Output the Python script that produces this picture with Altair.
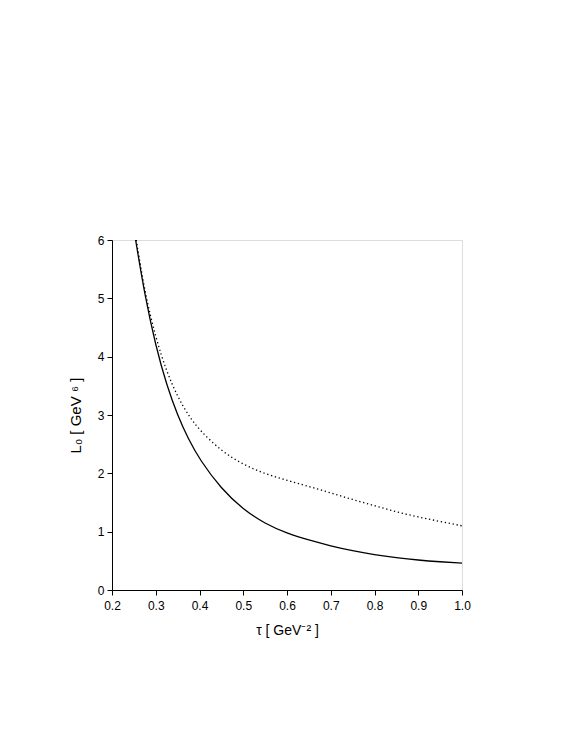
import altair as alt
import pandas as pd

# solid curve
tau_solid = [0.254, 0.275, 0.30, 0.325, 0.35, 0.375, 0.40, 0.45, 0.50, 0.55, 0.60, 0.65, 0.70, 0.75, 0.80, 0.85, 0.90, 0.95, 1.0]
L_solid = [6.0, 5.05, 4.18, 3.51, 2.99, 2.58, 2.24, 1.73, 1.38, 1.135, 0.97, 0.855, 0.755, 0.672, 0.605, 0.553, 0.512, 0.483, 0.46]

# dotted curve
tau_dot = [0.2555, 0.275, 0.30, 0.325, 0.35, 0.375, 0.40, 0.45, 0.50, 0.55, 0.60, 0.65, 0.70, 0.75, 0.80, 0.85, 0.90, 0.95, 1.0]
L_dot = [6.0, 5.10, 4.32, 3.74, 3.31, 2.99, 2.74, 2.38, 2.15, 1.99, 1.88, 1.775, 1.665, 1.55, 1.445, 1.34, 1.25, 1.175, 1.10]

x_ticks = [0.2, 0.3, 0.4, 0.5, 0.6, 0.7, 0.8, 0.9, 1.0]
y_ticks = [0, 1, 2, 3, 4, 5, 6]

df_s = pd.DataFrame({"tau": tau_solid, "L": L_solid})
df_d = pd.DataFrame({"tau": tau_dot, "L": L_dot})

font = "Liberation Sans"

xenc = alt.X("tau:Q", scale=alt.Scale(domain=[0.2, 1.0], nice=False, zero=False),
             axis=alt.Axis(values=x_ticks, format=".1f", title="τ [ GeV⁻² ]",
                           grid=False, tickSize=5, labelPadding=5, titlePadding=12,
                           labelFlush=False,
                           labelFont=font, titleFont=font, labelFontSize=12, titleFontSize=14,
                           labelColor="#000", titleColor="#000", titleFontWeight="normal",
                           domainColor="#000", tickColor="#000"))
yenc = alt.Y("L:Q", scale=alt.Scale(domain=[0, 6], nice=False),
             axis=alt.Axis(values=y_ticks, format="d", title="L₀ [ GeV ⁶ ]",
                           grid=False, tickSize=5, labelPadding=3, titlePadding=14,
                           labelFlush=False,
                           labelFont=font, titleFont=font, labelFontSize=12, titleFontSize=15,
                           labelColor="#000", titleColor="#000", titleFontWeight="normal",
                           domainColor="#000", tickColor="#000"))

solid = alt.Chart(df_s).mark_line(color="black", strokeWidth=1.3, interpolate="basis", clip=True).encode(
    x=xenc, y=yenc, order="tau:Q")
dotted = alt.Chart(df_d).mark_line(color="black", strokeWidth=1.3, strokeDash=[1.3, 2.7],
                                   interpolate="basis", clip=True).encode(
    x="tau:Q", y="L:Q", order="tau:Q")

chart = alt.layer(solid, dotted).properties(
    width=350, height=350,
    autosize=alt.AutoSizeParams(type="none"),
    padding={"left": 104, "top": 232, "right": 100, "bottom": 150},
).configure_view(stroke="#000", strokeWidth=1).configure(background="white")

chart.save("out.html", embed_options={"renderer": "svg", "actions": False})
